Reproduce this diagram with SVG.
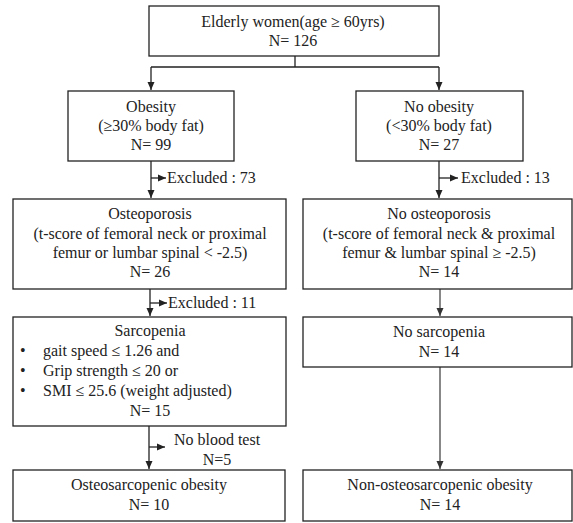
<svg xmlns="http://www.w3.org/2000/svg" width="573" height="523" viewBox="0 0 573 523">
<defs>
<marker id="ah" viewBox="0 0 8 8" refX="8" refY="4" markerWidth="8" markerHeight="8" markerUnits="userSpaceOnUse" orient="auto">
<path d="M0,0.5 L8,4 L0,7.5 Z" fill="#222"/>
</marker>
<marker id="ahg" viewBox="0 0 8 8" refX="8" refY="4" markerWidth="8" markerHeight="8" markerUnits="userSpaceOnUse" orient="auto">
<path d="M0,0.5 L8,4 L0,7.5 Z" fill="#333"/>
</marker>
</defs>
<style>
.box{fill:#fff;stroke:#222;stroke-width:1.3}
.t{font-family:"Liberation Serif","Times New Roman",serif;font-size:16px;fill:#222;text-anchor:middle}
.l{text-anchor:start}
.c{fill:none;stroke:#222;stroke-width:1.3}
.g{fill:none;stroke:#555;stroke-width:1.4}
</style>
<rect width="573" height="523" fill="#fff"/>
<g id="connectors">
<path class="c" d="M295,56 V67 M151,67 H439"/>
<path class="c" d="M151,67 V90" marker-end="url(#ah)"/>
<path class="c" d="M439,67 V90" marker-end="url(#ah)"/>
<path class="c" d="M151,161 V198" marker-end="url(#ah)"/>
<path class="c" d="M151,178 H166" marker-end="url(#ah)"/>
<path class="c" d="M439,161 V198" marker-end="url(#ah)"/>
<path class="c" d="M439,178 H458" marker-end="url(#ah)"/>
<path class="c" d="M150,289 V316" marker-end="url(#ah)"/>
<path class="c" d="M150,303 H167" marker-end="url(#ah)"/>
<path class="g" d="M440,289 V316" marker-end="url(#ahg)"/>
<path class="c" d="M149,426 V469" marker-end="url(#ah)"/>
<path class="c" d="M149,447 H165" marker-end="url(#ah)"/>
<path class="g" d="M440,367 V469" marker-end="url(#ahg)"/>
<text class="t l" x="167" y="183">Excluded : 73</text>
<text class="t l" x="461" y="183">Excluded : 13</text>
<text class="t l" x="168" y="308">Excluded : 11</text>
<text class="t" x="217" y="445">No blood test</text>
<text class="t" x="217" y="465">N=5</text>
</g>
<g id="elderly">
<rect class="box" x="149" y="6" width="290" height="50"/>
<text class="t" x="293" y="27">Elderly women(age ≥ 60yrs)</text>
<text class="t" x="293" y="46">N= 126</text>
</g>
<g id="obesity">
<rect class="box" x="68" y="91" width="166" height="70"/>
<text class="t" x="151" y="112">Obesity</text>
<text class="t" x="151" y="131">(≥30% body fat)</text>
<text class="t" x="151" y="150">N= 99</text>
</g>
<g id="no-obesity">
<rect class="box" x="356" y="91" width="167" height="70"/>
<text class="t" x="439" y="112">No obesity</text>
<text class="t" x="439" y="131">(&lt;30% body fat)</text>
<text class="t" x="439" y="150">N= 27</text>
</g>
<g id="osteoporosis">
<rect class="box" x="13" y="199" width="273" height="90"/>
<text class="t" x="150" y="219">Osteoporosis</text>
<text class="t" x="150" y="239">(t-score of femoral neck or proximal</text>
<text class="t" x="150" y="258">femur or lumbar spinal &lt; -2.5)</text>
<text class="t" x="150" y="277">N= 26</text>
</g>
<g id="no-osteoporosis">
<rect class="box" x="303" y="199" width="269" height="90"/>
<text class="t" x="439" y="219">No osteoporosis</text>
<text class="t" x="439" y="239">(t-score of femoral neck &amp; proximal</text>
<text class="t" x="439" y="258">femur &amp; lumbar spinal ≥ -2.5)</text>
<text class="t" x="439" y="277">N= 14</text>
</g>
<g id="sarcopenia">
<rect class="box" x="13" y="317" width="273" height="109"/>
<text class="t" x="150" y="336">Sarcopenia</text>
<text class="t l" x="20" y="356">•</text>
<text class="t l" x="43" y="356">gait speed ≤ 1.26 and</text>
<text class="t l" x="20" y="376">•</text>
<text class="t l" x="43" y="376">Grip strength ≤ 20 or</text>
<text class="t l" x="20" y="396">•</text>
<text class="t l" x="43" y="396">SMI ≤ 25.6 (weight adjusted)</text>
<text class="t" x="150" y="416">N= 15</text>
</g>
<g id="no-sarcopenia">
<rect class="box" x="303" y="317" width="269" height="50"/>
<text class="t" x="439" y="337">No sarcopenia</text>
<text class="t" x="439" y="357">N= 14</text>
</g>
<g id="oso">
<rect class="box" x="13" y="470" width="272" height="51"/>
<text class="t" x="149" y="490">Osteosarcopenic obesity</text>
<text class="t" x="149" y="510">N= 10</text>
</g>
<g id="non-oso">
<rect class="box" x="303" y="470" width="269" height="51"/>
<text class="t" x="440" y="490">Non-osteosarcopenic obesity</text>
<text class="t" x="440" y="510">N= 14</text>
</g>
</svg>
